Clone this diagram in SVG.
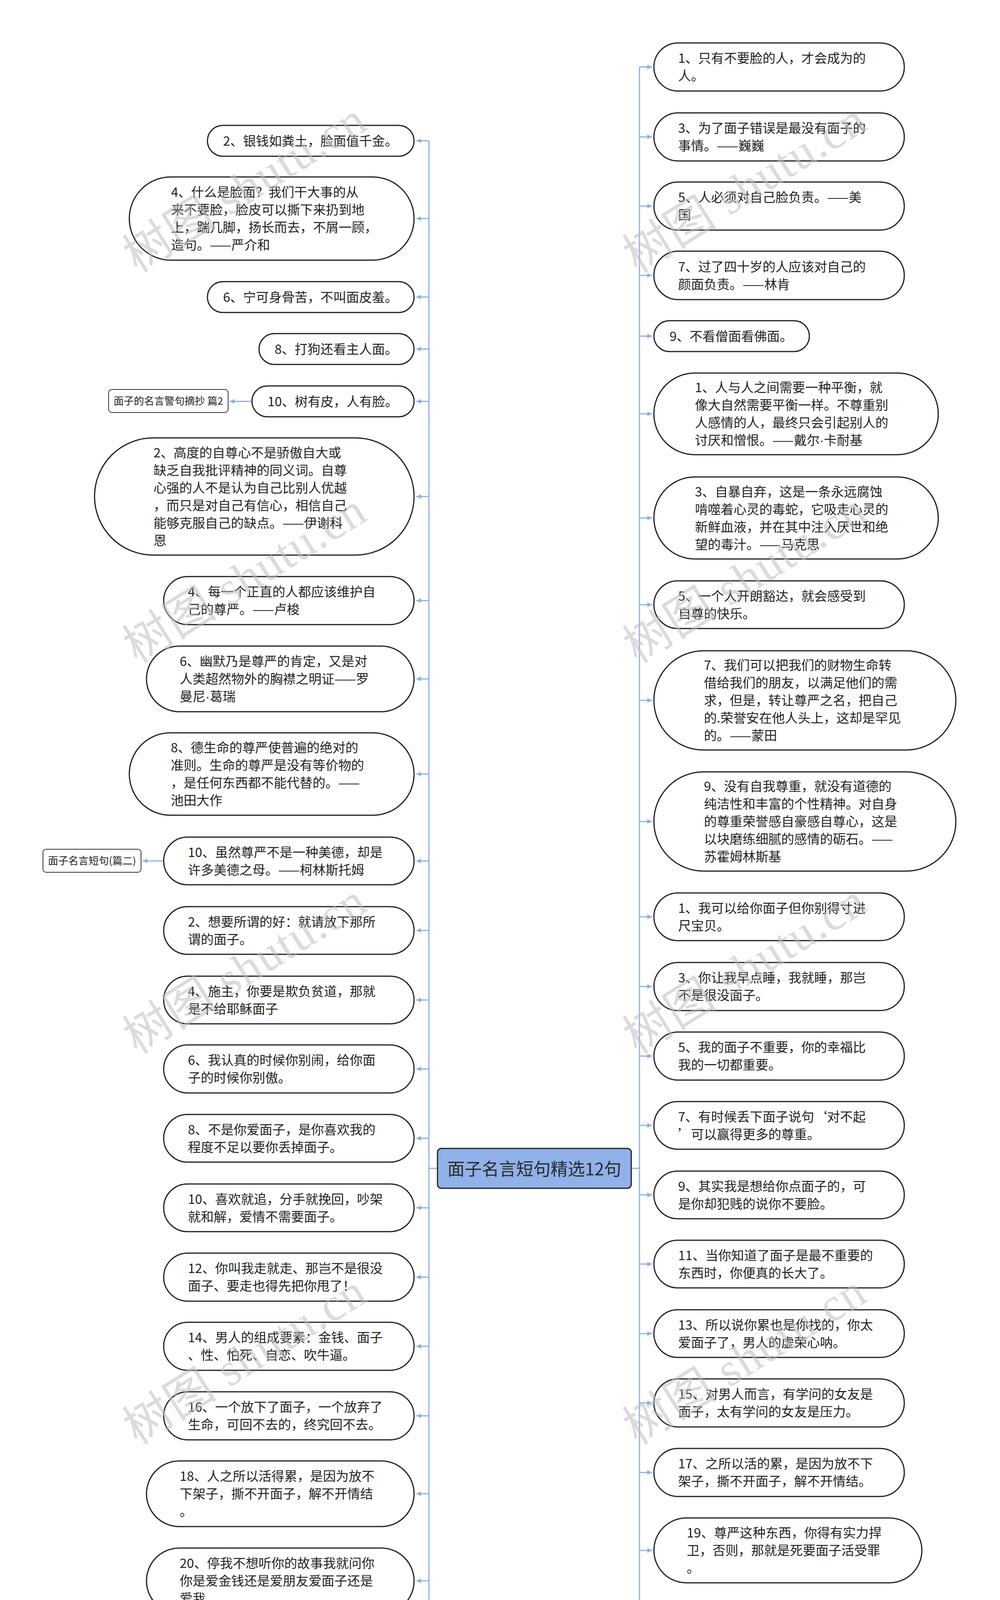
<svg xmlns="http://www.w3.org/2000/svg" width="2560" height="5984" viewBox="0 0 2560 5984">
<style>
.n rect{fill:#fff;stroke:#1e1e1e;stroke-width:3}
.n text{font-family:"Noto Sans CJK SC","Liberation Sans",sans-serif;font-size:33px;fill:#222}
.s rect{fill:#fff;stroke:#333;stroke-width:2}
.s text{font-family:"Noto Sans CJK SC","Liberation Sans",sans-serif;font-size:26px;fill:#222;text-anchor:middle}
.c rect{fill:#90B1E9;stroke:#1e1e1e;stroke-width:3}
.c text{font-family:"Noto Sans CJK SC","Liberation Sans",sans-serif;font-size:44px;fill:#2a2a2a;text-anchor:middle}
.tr{stroke:#8DB0E6;stroke-width:3;fill:none}
.br{stroke:#8DB0E6;stroke-width:3;fill:none;marker-end:url(#ar)}
.dot{font-family:"Liberation Sans",sans-serif}
.wm text{font-family:"Liberation Serif","Noto Sans CJK SC",serif;font-size:120px;fill:#bdbdbd;fill-opacity:0.55}
</style>
<defs>
<marker id="ar" markerUnits="userSpaceOnUse" markerWidth="14" markerHeight="14" refX="12" refY="6" orient="auto"><path d="M0,0 L12,6 L0,12 z" fill="#8DB0E6"/></marker>
</defs>
<rect width="2560" height="5984" fill="#fff"/>
<g id="connectors">
<path class="tr" d="M1120 2991H1098M1098 360.5V5623.5M1616 2991H1637M1637 171.5V5767"/>
<path class="br" d="M1098 360.5H1066"/>
<path class="br" d="M1098 559.5H1066"/>
<path class="br" d="M1098 760.5H1066"/>
<path class="br" d="M1098 893.5H1066"/>
<path class="br" d="M1098 1027.5H1066"/>
<path class="br" d="M1098 1271H1066"/>
<path class="br" d="M1098 1537.5H1066"/>
<path class="br" d="M1098 1738H1066"/>
<path class="br" d="M1098 1981.5H1066"/>
<path class="br" d="M1098 2204H1066"/>
<path class="br" d="M1098 2382H1066"/>
<path class="br" d="M1098 2560H1066"/>
<path class="br" d="M1098 2736.5H1066"/>
<path class="br" d="M1098 2914H1066"/>
<path class="br" d="M1098 3092H1066"/>
<path class="br" d="M1098 3269.5H1066"/>
<path class="br" d="M1098 3446.5H1066"/>
<path class="br" d="M1098 3624.5H1066"/>
<path class="br" d="M1098 3824H1066"/>
<path class="br" d="M1098 4047H1066"/>
<path class="br" d="M1098 4268.5H1066"/>
<path class="br" d="M1098 4490.5H1066"/>
<path class="br" d="M1098 4712.5H1066"/>
<path class="br" d="M1098 4935.5H1066"/>
<path class="br" d="M1098 5157.5H1066"/>
<path class="br" d="M1098 5379.5H1066"/>
<path class="br" d="M1098 5623.5H1066"/>
<path class="br" d="M645 1027.5H588"/>
<path class="br" d="M419 2204H365"/>
<path class="br" d="M1637 171.5H1669"/>
<path class="br" d="M1637 350.5H1669"/>
<path class="br" d="M1637 527.5H1669"/>
<path class="br" d="M1637 705H1669"/>
<path class="br" d="M1637 860.5H1669"/>
<path class="br" d="M1637 1059.5H1669"/>
<path class="br" d="M1637 1326H1669"/>
<path class="br" d="M1637 1548H1669"/>
<path class="br" d="M1637 1793H1669"/>
<path class="br" d="M1637 2103H1669"/>
<path class="br" d="M1637 2347H1669"/>
<path class="br" d="M1637 2525.5H1669"/>
<path class="br" d="M1637 2703.5H1669"/>
<path class="br" d="M1637 2881H1669"/>
<path class="br" d="M1637 3059H1669"/>
<path class="br" d="M1637 3236H1669"/>
<path class="br" d="M1637 3414H1669"/>
<path class="br" d="M1637 3591.5H1669"/>
<path class="br" d="M1637 3769.5H1669"/>
<path class="br" d="M1637 3969H1669"/>
<path class="br" d="M1637 4191H1669"/>
<path class="br" d="M1637 4413.5H1669"/>
<path class="br" d="M1637 4635H1669"/>
<path class="br" d="M1637 4857H1669"/>
<path class="br" d="M1637 5079H1669"/>
<path class="br" d="M1637 5301H1669"/>
<path class="br" d="M1637 5523H1669"/>
<path class="br" d="M1637 5767H1669"/>
</g>
<g id="center" class="c"><rect x="1120" y="2940" width="496" height="102" rx="10"/><text x="1368" y="3009">面子名言短句精选12句</text></g>
<g id="S1" class="s"><rect x="278" y="997" width="306" height="59" rx="8"/><text x="431" y="1036">面子的名言警句摘抄 篇2</text></g>
<g id="S2" class="s"><rect x="110" y="2174" width="251" height="59" rx="8"/><text x="235.5" y="2213">面子名言短句(篇二)</text></g>
<g id="L1" class="n"><rect x="531" y="321" width="529" height="79" rx="39.5"/><text x="571" y="372.5">2、银钱如粪土，脸面值千金。</text></g>
<g id="L2" class="n"><rect x="331" y="453" width="729" height="213" rx="106.5"/><text x="438" y="504"><tspan x="438">4、什么是脸面？我们干大事的从</tspan><tspan x="438" dy="45">来不要脸，脸皮可以撕下来扔到地</tspan><tspan x="438" dy="45">上，踹几脚，扬长而去，不屑一顾，</tspan><tspan x="438" dy="45">造句。——严介和</tspan></text></g>
<g id="L3" class="n"><rect x="531" y="721" width="529" height="79" rx="39.5"/><text x="571" y="772.5">6、宁可身骨苦，不叫面皮羞。</text></g>
<g id="L4" class="n"><rect x="663" y="854" width="397" height="79" rx="39.5"/><text x="703" y="905.5">8、打狗还看主人面。</text></g>
<g id="L5" class="n"><rect x="645" y="988" width="415" height="79" rx="39.5"/><text x="685" y="1039.5">10、树有皮，人有脸。</text></g>
<g id="L6" class="n"><rect x="242" y="1121" width="818" height="300" rx="150"/><text x="393" y="1170.5"><tspan x="393">2、高度的自尊心不是骄傲自大或</tspan><tspan x="393" dy="45">缺乏自我批评精神的同义词。自尊</tspan><tspan x="393" dy="45">心强的人不是认为自己比别人优越</tspan><tspan x="393" dy="45">，而只是对自己有信心，相信自己</tspan><tspan x="393" dy="45">能够克服自己的缺点。——伊谢科</tspan><tspan x="393" dy="45">恩</tspan></text></g>
<g id="L7" class="n"><rect x="419" y="1476" width="641" height="123" rx="61.5"/><text x="481" y="1527"><tspan x="481">4、每一个正直的人都应该维护自</tspan><tspan x="481" dy="45">己的尊严。——卢梭</tspan></text></g>
<g id="L8" class="n"><rect x="375" y="1654" width="685" height="168" rx="84"/><text x="460" y="1705"><tspan x="460">6、幽默乃是尊严的肯定，又是对</tspan><tspan x="460" dy="45">人类超然物外的胸襟之明证——罗</tspan><tspan x="460" dy="45">曼尼<tspan class="dot">·</tspan>葛瑞</tspan></text></g>
<g id="L9" class="n"><rect x="331" y="1876" width="729" height="211" rx="105.5"/><text x="437" y="1926"><tspan x="437">8、德生命的尊严使普遍的绝对的</tspan><tspan x="437" dy="45">准则。生命的尊严是没有等价物的</tspan><tspan x="437" dy="45">，是任何东西都不能代替的。——</tspan><tspan x="437" dy="45">池田大作</tspan></text></g>
<g id="L10" class="n"><rect x="419" y="2143" width="641" height="122" rx="61"/><text x="481" y="2193.5"><tspan x="481">10、虽然尊严不是一种美德，却是</tspan><tspan x="481" dy="45">许多美德之母。——柯林斯托姆</tspan></text></g>
<g id="L11" class="n"><rect x="419" y="2321" width="641" height="122" rx="61"/><text x="481" y="2371.5"><tspan x="481">2、想要所谓的好：就请放下那所</tspan><tspan x="481" dy="45">谓的面子。</tspan></text></g>
<g id="L12" class="n"><rect x="419" y="2499" width="641" height="122" rx="61"/><text x="481" y="2549.5"><tspan x="481">4、施主，你要是欺负贫道，那就</tspan><tspan x="481" dy="45">是不给耶稣面子</tspan></text></g>
<g id="L13" class="n"><rect x="419" y="2675" width="641" height="123" rx="61.5"/><text x="481" y="2726"><tspan x="481">6、我认真的时候你别闹，给你面</tspan><tspan x="481" dy="45">子的时候你别傲。</tspan></text></g>
<g id="L14" class="n"><rect x="419" y="2853" width="641" height="122" rx="61"/><text x="481" y="2903.5"><tspan x="481">8、不是你爱面子，是你喜欢我的</tspan><tspan x="481" dy="45">程度不足以要你丢掉面子。</tspan></text></g>
<g id="L15" class="n"><rect x="419" y="3031" width="641" height="122" rx="61"/><text x="481" y="3081.5"><tspan x="481">10、喜欢就追，分手就挽回，吵架</tspan><tspan x="481" dy="45">就和解，爱情不需要面子。</tspan></text></g>
<g id="L16" class="n"><rect x="419" y="3208" width="641" height="123" rx="61.5"/><text x="481" y="3259"><tspan x="481">12、你叫我走就走、那岂不是很没</tspan><tspan x="481" dy="45">面子、要走也得先把你甩了！</tspan></text></g>
<g id="L17" class="n"><rect x="419" y="3385" width="641" height="123" rx="61.5"/><text x="481" y="3436"><tspan x="481">14、男人的组成要素：金钱、面子</tspan><tspan x="481" dy="45">、性、怕死、自恋、吹牛逼。</tspan></text></g>
<g id="L18" class="n"><rect x="419" y="3563" width="641" height="123" rx="61.5"/><text x="481" y="3614"><tspan x="481">16、一个放下了面子，一个放弃了</tspan><tspan x="481" dy="45">生命，可回不去的，终究回不去。</tspan></text></g>
<g id="L19" class="n"><rect x="375" y="3740" width="685" height="168" rx="84"/><text x="460" y="3791"><tspan x="460">18、人之所以活得累，是因为放不</tspan><tspan x="460" dy="45">下架子，撕不开面子，解不开情结</tspan><tspan x="460" dy="45">。</tspan></text></g>
<g id="L20" class="n"><rect x="375" y="3963" width="685" height="168" rx="84"/><text x="460" y="4014"><tspan x="460">20、停我不想听你的故事我就问你</tspan><tspan x="460" dy="45">你是爱金钱还是爱朋友爱面子还是</tspan><tspan x="460" dy="45">爱我</tspan></text></g>
<g id="L21" class="n"><rect x="375" y="4185" width="685" height="167" rx="83.5"/><text x="460" y="4235.5"><tspan x="460">22、面子不值钱，尤其是你的，尤</tspan><tspan x="460" dy="45">其是你能力不够的时候。加油，永</tspan><tspan x="460" dy="45">不放弃。</tspan></text></g>
<g id="L22" class="n"><rect x="375" y="4407" width="685" height="167" rx="83.5"/><text x="460" y="4457.5"><tspan x="460">24、想我了就来找我，别要面子，</tspan><tspan x="460" dy="45">我什么性格你知道，只要你开口，</tspan><tspan x="460" dy="45">我就肯低头。</tspan></text></g>
<g id="L23" class="n"><rect x="375" y="4629" width="685" height="167" rx="83.5"/><text x="460" y="4679.5"><tspan x="460">26、我们总是天真的高估自己与别</tspan><tspan x="460" dy="45">人的关系，殊不知都是所谓的面子</tspan><tspan x="460" dy="45">在那儿苦苦支撑</tspan></text></g>
<g id="L24" class="n"><rect x="375" y="4852" width="685" height="167" rx="83.5"/><text x="460" y="4902.5"><tspan x="460">28、如果我是你的女朋友，我会在</tspan><tspan x="460" dy="45">你的哥们儿面前给足你面子，然后</tspan><tspan x="460" dy="45">背地里跟你算帐。</tspan></text></g>
<g id="L25" class="n"><rect x="375" y="5074" width="685" height="167" rx="83.5"/><text x="460" y="5124.5"><tspan x="460">30、当你觉得钱比面子重要的时候</tspan><tspan x="460" dy="45">，证明你成熟了;当你能用钱买回面</tspan><tspan x="460" dy="45">子的时候，证明你成功了！</tspan></text></g>
<g id="L26" class="n"><rect x="375" y="5296" width="685" height="167" rx="83.5"/><text x="460" y="5346.5"><tspan x="460">32、如果我是你的女朋友，我会在</tspan><tspan x="460" dy="45">你的哥们面前给足你面子，然后在</tspan><tspan x="460" dy="45">背地里算你又欠我几脚和几下挠。</tspan></text></g>
<g id="L27" class="n"><rect x="331" y="5518" width="729" height="211" rx="105.5"/><text x="437" y="5568"><tspan x="437">34、为什么男人找老婆都要找漂亮</tspan><tspan x="437" dy="45">的，因为漂亮女人是男人的面子，</tspan><tspan x="437" dy="45">你给男人面子，回到家男人给你里</tspan><tspan x="437" dy="45">子。</tspan></text></g>
<g id="R1" class="n"><rect x="1674" y="110" width="641" height="123" rx="61.5"/><text x="1736" y="161"><tspan x="1736">1、只有不要脸的人，才会成为的</tspan><tspan x="1736" dy="45">人。</tspan></text></g>
<g id="R2" class="n"><rect x="1674" y="289" width="641" height="123" rx="61.5"/><text x="1736" y="340"><tspan x="1736">3、为了面子错误是最没有面子的</tspan><tspan x="1736" dy="45">事情。——巍巍</tspan></text></g>
<g id="R3" class="n"><rect x="1674" y="466" width="641" height="123" rx="61.5"/><text x="1736" y="517"><tspan x="1736">5、人必须对自己脸负责。——美</tspan><tspan x="1736" dy="45">国</tspan></text></g>
<g id="R4" class="n"><rect x="1674" y="643" width="641" height="124" rx="62"/><text x="1736" y="694.5"><tspan x="1736">7、过了四十岁的人应该对自己的</tspan><tspan x="1736" dy="45">颜面负责。——林肯</tspan></text></g>
<g id="R5" class="n"><rect x="1674" y="821" width="398" height="79" rx="39.5"/><text x="1714" y="872.5">9、不看僧面看佛面。</text></g>
<g id="R6" class="n"><rect x="1674" y="955" width="728" height="209" rx="104.5"/><text x="1779" y="1004"><tspan x="1779">1、人与人之间需要一种平衡，就</tspan><tspan x="1779" dy="45">像大自然需要平衡一样。不尊重别</tspan><tspan x="1779" dy="45">人感情的人，最终只会引起别人的</tspan><tspan x="1779" dy="45">讨厌和憎恨。——戴尔<tspan class="dot">·</tspan>卡耐基</tspan></text></g>
<g id="R7" class="n"><rect x="1674" y="1221" width="728" height="210" rx="105"/><text x="1779" y="1270.5"><tspan x="1779">3、自暴自弃，这是一条永远腐蚀</tspan><tspan x="1779" dy="45">啃噬着心灵的毒蛇，它吸走心灵的</tspan><tspan x="1779" dy="45">新鲜血液，并在其中注入厌世和绝</tspan><tspan x="1779" dy="45">望的毒汁。——马克思</tspan></text></g>
<g id="R8" class="n"><rect x="1674" y="1487" width="641" height="122" rx="61"/><text x="1736" y="1537.5"><tspan x="1736">5、一个人开朗豁达，就会感受到</tspan><tspan x="1736" dy="45">自尊的快乐。</tspan></text></g>
<g id="R9" class="n"><rect x="1674" y="1666" width="773" height="254" rx="127"/><text x="1802" y="1715"><tspan x="1802">7、我们可以把我们的财物生命转</tspan><tspan x="1802" dy="45">借给我们的朋友，以满足他们的需</tspan><tspan x="1802" dy="45">求，但是，转让尊严之名，把自己</tspan><tspan x="1802" dy="45">的.荣誉安在他人头上，这却是罕见</tspan><tspan x="1802" dy="45">的。——蒙田</tspan></text></g>
<g id="R10" class="n"><rect x="1674" y="1976" width="773" height="254" rx="127"/><text x="1802" y="2025"><tspan x="1802">9、没有自我尊重，就没有道德的</tspan><tspan x="1802" dy="45">纯洁性和丰富的个性精神。对自身</tspan><tspan x="1802" dy="45">的尊重荣誉感自豪感自尊心，这是</tspan><tspan x="1802" dy="45">以块磨练细腻的感情的砺石。——</tspan><tspan x="1802" dy="45">苏霍姆林斯基</tspan></text></g>
<g id="R11" class="n"><rect x="1674" y="2286" width="641" height="122" rx="61"/><text x="1736" y="2336.5"><tspan x="1736">1、我可以给你面子但你别得寸进</tspan><tspan x="1736" dy="45">尺宝贝。</tspan></text></g>
<g id="R12" class="n"><rect x="1674" y="2464" width="641" height="123" rx="61.5"/><text x="1736" y="2515"><tspan x="1736">3、你让我早点睡，我就睡，那岂</tspan><tspan x="1736" dy="45">不是很没面子。</tspan></text></g>
<g id="R13" class="n"><rect x="1674" y="2642" width="641" height="123" rx="61.5"/><text x="1736" y="2693"><tspan x="1736">5、我的面子不重要，你的幸福比</tspan><tspan x="1736" dy="45">我的一切都重要。</tspan></text></g>
<g id="R14" class="n"><rect x="1674" y="2820" width="641" height="122" rx="61"/><text x="1736" y="2870.5"><tspan x="1736">7、有时候丢下面子说句‘对不起</tspan><tspan x="1736" dy="45">’可以赢得更多的尊重。</tspan></text></g>
<g id="R15" class="n"><rect x="1674" y="2998" width="641" height="122" rx="61"/><text x="1736" y="3048.5"><tspan x="1736">9、其实我是想给你点面子的，可</tspan><tspan x="1736" dy="45">是你却犯贱的说你不要脸。</tspan></text></g>
<g id="R16" class="n"><rect x="1674" y="3175" width="641" height="122" rx="61"/><text x="1736" y="3225.5"><tspan x="1736">11、当你知道了面子是最不重要的</tspan><tspan x="1736" dy="45">东西时，你便真的长大了。</tspan></text></g>
<g id="R17" class="n"><rect x="1674" y="3353" width="641" height="122" rx="61"/><text x="1736" y="3403.5"><tspan x="1736">13、所以说你累也是你找的，你太</tspan><tspan x="1736" dy="45">爱面子了，男人的虚荣心呐。</tspan></text></g>
<g id="R18" class="n"><rect x="1674" y="3530" width="641" height="123" rx="61.5"/><text x="1736" y="3581"><tspan x="1736">15、对男人而言，有学问的女友是</tspan><tspan x="1736" dy="45">面子，太有学问的女友是压力。</tspan></text></g>
<g id="R19" class="n"><rect x="1674" y="3708" width="641" height="123" rx="61.5"/><text x="1736" y="3759"><tspan x="1736">17、之所以活的累，是因为放不下</tspan><tspan x="1736" dy="45">架子，撕不开面子，解不开情结。</tspan></text></g>
<g id="R20" class="n"><rect x="1674" y="3886" width="686" height="166" rx="83"/><text x="1758" y="3936"><tspan x="1758">19、尊严这种东西，你得有实力捍</tspan><tspan x="1758" dy="45">卫，否则，那就是死要面子活受罪</tspan><tspan x="1758" dy="45">。</tspan></text></g>
<g id="R21" class="n"><rect x="1674" y="4108" width="686" height="166" rx="83"/><text x="1758" y="4158"><tspan x="1758">21、想我了就来找我，别要面子，</tspan><tspan x="1758" dy="45">我什么性子你知道，你开口我就肯</tspan><tspan x="1758" dy="45">低头。</tspan></text></g>
<g id="R22" class="n"><rect x="1674" y="4330" width="686" height="167" rx="83.5"/><text x="1758" y="4380.5"><tspan x="1758">23、想我了就来找我，别要面子，</tspan><tspan x="1758" dy="45">我什么性子你知道，你肯开口，我</tspan><tspan x="1758" dy="45">就肯低头。</tspan></text></g>
<g id="R23" class="n"><rect x="1674" y="4551" width="686" height="168" rx="84"/><text x="1758" y="4602"><tspan x="1758">25、岁到32岁，人生最重要的12年</tspan><tspan x="1758" dy="45">。目标是妻子、孩子、房子、车子</tspan><tspan x="1758" dy="45">、票子、面子。</tspan></text></g>
<g id="R24" class="n"><rect x="1674" y="4773" width="686" height="168" rx="84"/><text x="1758" y="4824"><tspan x="1758">27、给你面子你不要，你是有多不</tspan><tspan x="1758" dy="45">要脸，我说拿你当人的时候，你尽</tspan><tspan x="1758" dy="45">量走人道好吗？</tspan></text></g>
<g id="R25" class="n"><rect x="1674" y="4995" width="686" height="168" rx="84"/><text x="1758" y="5046"><tspan x="1758">29、明说，自己过得也不宽裕要还</tspan><tspan x="1758" dy="45">货款。如果要面子那你以后还会有</tspan><tspan x="1758" dy="45">这样的事你会更痛苦!</tspan></text></g>
<g id="R26" class="n"><rect x="1674" y="5218" width="686" height="166" rx="83"/><text x="1758" y="5268"><tspan x="1758">31、成熟的人，把握说实话的分寸</tspan><tspan x="1758" dy="45">，看得穿，不说破，顾全了别人的</tspan><tspan x="1758" dy="45">面子，也成全了自己的智慧。</tspan></text></g>
<g id="R27" class="n"><rect x="1674" y="5440" width="686" height="166" rx="83"/><text x="1758" y="5490"><tspan x="1758">33、当你放下面子挣钱的时候，说</tspan><tspan x="1758" dy="45">明你已经成熟了。当你用金钱换回</tspan><tspan x="1758" dy="45">面子的时候，说明你已经成功了。</tspan></text></g>
<g id="R28" class="n"><rect x="1674" y="5661" width="728" height="212" rx="106"/><text x="1779" y="5711.5"><tspan x="1779">35、人之所以活得很累，是因为放</tspan><tspan x="1779" dy="45">不下架子，拉不开面子，解不开心</tspan><tspan x="1779" dy="45">结，见不得别人过得好，不甘心自</tspan><tspan x="1779" dy="45">己过得平庸。</tspan></text></g>
<g id="watermark" class="wm">
<text x="351" y="700" transform="rotate(-32 351 700)" textLength="700" lengthAdjust="spacing">树图 shutu.cn</text>
<text x="351" y="1700" transform="rotate(-32 351 1700)" textLength="700" lengthAdjust="spacing">树图 shutu.cn</text>
<text x="351" y="2700" transform="rotate(-32 351 2700)" textLength="700" lengthAdjust="spacing">树图 shutu.cn</text>
<text x="351" y="3700" transform="rotate(-32 351 3700)" textLength="700" lengthAdjust="spacing">树图 shutu.cn</text>
<text x="351" y="4700" transform="rotate(-32 351 4700)" textLength="700" lengthAdjust="spacing">树图 shutu.cn</text>
<text x="351" y="5700" transform="rotate(-32 351 5700)" textLength="700" lengthAdjust="spacing">树图 shutu.cn</text>
<text x="1631" y="700" transform="rotate(-32 1631 700)" textLength="700" lengthAdjust="spacing">树图 shutu.cn</text>
<text x="1631" y="1700" transform="rotate(-32 1631 1700)" textLength="700" lengthAdjust="spacing">树图 shutu.cn</text>
<text x="1631" y="2700" transform="rotate(-32 1631 2700)" textLength="700" lengthAdjust="spacing">树图 shutu.cn</text>
<text x="1631" y="3700" transform="rotate(-32 1631 3700)" textLength="700" lengthAdjust="spacing">树图 shutu.cn</text>
<text x="1631" y="4700" transform="rotate(-32 1631 4700)" textLength="700" lengthAdjust="spacing">树图 shutu.cn</text>
<text x="1631" y="5700" transform="rotate(-32 1631 5700)" textLength="700" lengthAdjust="spacing">树图 shutu.cn</text>
</g>
</svg>
